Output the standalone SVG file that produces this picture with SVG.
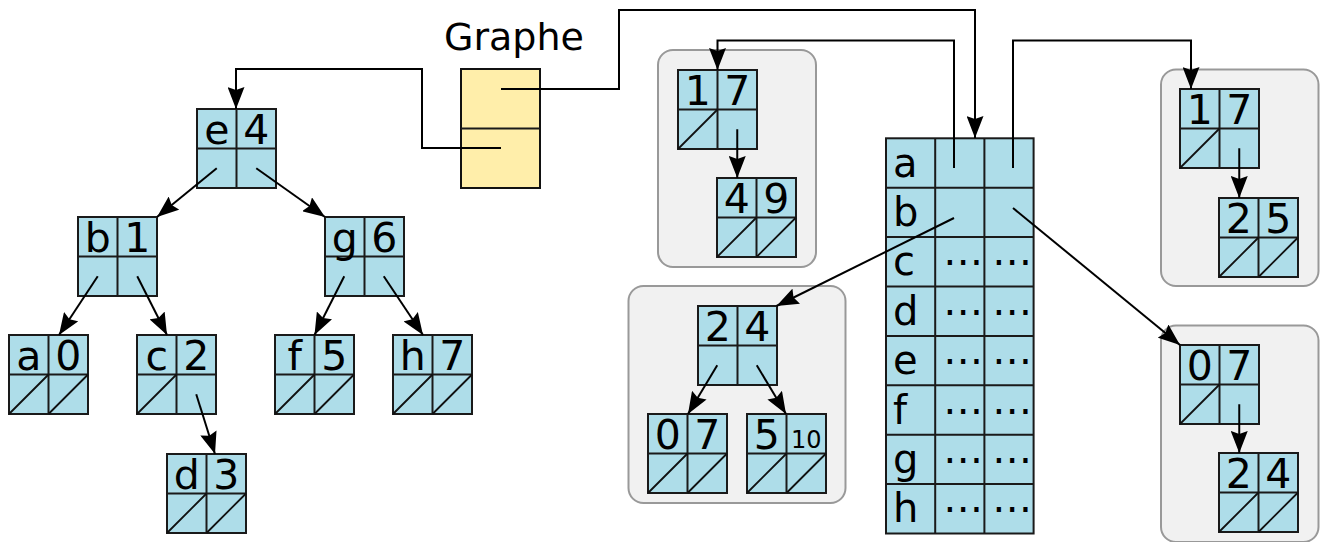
<svg xmlns="http://www.w3.org/2000/svg" width="1320" height="542" viewBox="0 0 1320 542">
<defs>
<style>
.cell{fill:#aedde9;stroke:#1a1a1a;stroke-width:2}
.grid{fill:none;stroke:#1a1a1a;stroke-width:2}
.sl{fill:none;stroke:#111;stroke-width:1.8}
.t{font-family:"DejaVu Sans",sans-serif;font-size:41px;fill:#000;text-anchor:middle}
.tl{font-family:"DejaVu Sans",sans-serif;font-size:40px;fill:#000}
.ln{fill:none;stroke:#000;stroke-width:2}
.arr{marker-end:url(#ah)}
.grp{fill:#f1f1f1;stroke:#999;stroke-width:2}
</style>
<marker id="ah" viewBox="0 0 22 17" refX="22" refY="8.5" markerWidth="22" markerHeight="17" markerUnits="userSpaceOnUse" orient="auto">
<path d="M0,0 L22,8.5 L0,17 L3,8.5 z" fill="#000"/>
</marker>
</defs>
<rect width="1320" height="542" fill="#fff"/>

<g id="groups">
<rect class="grp" x="658" y="50" width="158" height="217" rx="15"/>
<rect class="grp" x="628.5" y="286" width="217" height="217" rx="15"/>
<rect class="grp" x="1161" y="69.5" width="157.5" height="216.5" rx="15"/>
<rect class="grp" x="1161" y="325.5" width="157.5" height="216.5" rx="15"/>
</g>

<g id="graphe">
<text x="514" y="50" font-family="DejaVu Sans, sans-serif" font-size="38" text-anchor="middle" fill="#000">Graphe</text>
<rect x="461" y="69" width="79" height="119" fill="#ffeeaa" stroke="#111" stroke-width="2"/>
<path d="M461,128.5H540" class="grid"/>
</g>

<g id="n-e4" transform="translate(197,109)"><rect class="cell" width="79" height="79"/><path class="grid" d="M39.5,0V79M0,39.5H79"/><text class="t" x="19.75" y="34.5">e</text><text class="t" x="59.25" y="34.5">4</text></g>
<g id="n-b1" transform="translate(78,217)"><rect class="cell" width="79" height="79"/><path class="grid" d="M39.5,0V79M0,39.5H79"/><text class="t" x="19.75" y="34.5">b</text><text class="t" x="59.25" y="34.5">1</text></g>
<g id="n-g6" transform="translate(325,217)"><rect class="cell" width="79" height="79"/><path class="grid" d="M39.5,0V79M0,39.5H79"/><text class="t" x="19.75" y="34.5">g</text><text class="t" x="59.25" y="34.5">6</text></g>
<g id="n-a0" transform="translate(9,335)"><rect class="cell" width="79" height="79"/><path class="grid" d="M39.5,0V79M0,39.5H79"/><path class="sl" d="M0,79L39.5,39.5M39.5,79L79,39.5"/><text class="t" x="19.75" y="34.5">a</text><text class="t" x="59.25" y="34.5">0</text></g>
<g id="n-c2" transform="translate(137,335)"><rect class="cell" width="79" height="79"/><path class="grid" d="M39.5,0V79M0,39.5H79"/><path class="sl" d="M0,79L39.5,39.5"/><text class="t" x="19.75" y="34.5">c</text><text class="t" x="59.25" y="34.5">2</text></g>
<g id="n-f5" transform="translate(275,335)"><rect class="cell" width="79" height="79"/><path class="grid" d="M39.5,0V79M0,39.5H79"/><path class="sl" d="M0,79L39.5,39.5M39.5,79L79,39.5"/><text class="t" x="19.75" y="34.5">f</text><text class="t" x="59.25" y="34.5">5</text></g>
<g id="n-h7" transform="translate(393,335)"><rect class="cell" width="79" height="79"/><path class="grid" d="M39.5,0V79M0,39.5H79"/><path class="sl" d="M0,79L39.5,39.5M39.5,79L79,39.5"/><text class="t" x="19.75" y="34.5">h</text><text class="t" x="59.25" y="34.5">7</text></g>
<g id="n-d3" transform="translate(167,454)"><rect class="cell" width="79" height="79"/><path class="grid" d="M39.5,0V79M0,39.5H79"/><path class="sl" d="M0,79L39.5,39.5M39.5,79L79,39.5"/><text class="t" x="19.75" y="34.5">d</text><text class="t" x="59.25" y="34.5">3</text></g>

<g id="m-17" transform="translate(678,70)"><rect class="cell" width="79" height="79"/><path class="grid" d="M39.5,0V79M0,39.5H79"/><path class="sl" d="M0,79L39.5,39.5"/><text class="t" x="19.75" y="34.5">1</text><text class="t" x="59.25" y="34.5">7</text></g>
<g id="m-49" transform="translate(717,178)"><rect class="cell" width="79" height="79"/><path class="grid" d="M39.5,0V79M0,39.5H79"/><path class="sl" d="M0,79L39.5,39.5M39.5,79L79,39.5"/><text class="t" x="19.75" y="34.5">4</text><text class="t" x="59.25" y="34.5">9</text></g>
<g id="m-24" transform="translate(698,306)"><rect class="cell" width="79" height="79"/><path class="grid" d="M39.5,0V79M0,39.5H79"/><text class="t" x="19.75" y="34.5">2</text><text class="t" x="59.25" y="34.5">4</text></g>
<g id="m-07" transform="translate(648,414)"><rect class="cell" width="79" height="79"/><path class="grid" d="M39.5,0V79M0,39.5H79"/><path class="sl" d="M0,79L39.5,39.5M39.5,79L79,39.5"/><text class="t" x="19.75" y="34.5">0</text><text class="t" x="59.25" y="34.5">7</text></g>
<g id="m-510" transform="translate(747,414)"><rect class="cell" width="79" height="79"/><path class="grid" d="M39.5,0V79M0,39.5H79"/><path class="sl" d="M0,79L39.5,39.5M39.5,79L79,39.5"/><text class="t" x="19.75" y="34.5">5</text><text class="t" x="59.25" y="33.5" style="font-size:24px">10</text></g>

<g id="r-17" transform="translate(1180,89)"><rect class="cell" width="79" height="79"/><path class="grid" d="M39.5,0V79M0,39.5H79"/><path class="sl" d="M0,79L39.5,39.5"/><text class="t" x="19.75" y="34.5">1</text><text class="t" x="59.25" y="34.5">7</text></g>
<g id="r-25" transform="translate(1219,198)"><rect class="cell" width="79" height="79"/><path class="grid" d="M39.5,0V79M0,39.5H79"/><path class="sl" d="M0,79L39.5,39.5M39.5,79L79,39.5"/><text class="t" x="19.75" y="34.5">2</text><text class="t" x="59.25" y="34.5">5</text></g>
<g id="r-07" transform="translate(1180,345)"><rect class="cell" width="79" height="79"/><path class="grid" d="M39.5,0V79M0,39.5H79"/><path class="sl" d="M0,79L39.5,39.5"/><text class="t" x="19.75" y="34.5">0</text><text class="t" x="59.25" y="34.5">7</text></g>
<g id="r-24" transform="translate(1219,453)"><rect class="cell" width="79" height="79"/><path class="grid" d="M39.5,0V79M0,39.5H79"/><path class="sl" d="M0,79L39.5,39.5M39.5,79L79,39.5"/><text class="t" x="19.75" y="34.5">2</text><text class="t" x="59.25" y="34.5">4</text></g>

<g id="table">
<rect class="cell" x="886" y="138.3" width="147.6" height="395.2"/>
<path class="grid" d="M935.2,138.3V533.5M984.4,138.3V533.5M886,187.7H1033.6M886,237.1H1033.6M886,286.5H1033.6M886,335.9H1033.6M886,385.3H1033.6M886,434.7H1033.6M886,484.1H1033.6"/>
<text class="tl" x="893" y="176.5">a</text>
<text class="tl" x="893" y="225.9">b</text>
<text class="tl" x="893" y="275.3">c</text>
<text class="tl" x="893" y="324.7">d</text>
<text class="tl" x="893" y="374.1">e</text>
<text class="tl" x="893" y="423.5">f</text>
<text class="tl" x="893" y="472.9">g</text>
<text class="tl" x="893" y="522.3">h</text>
<g class="tl">
<text x="943" y="275.3">⋯</text><text x="992" y="275.3">⋯</text>
<text x="943" y="324.7">⋯</text><text x="992" y="324.7">⋯</text>
<text x="943" y="374.1">⋯</text><text x="992" y="374.1">⋯</text>
<text x="943" y="423.5">⋯</text><text x="992" y="423.5">⋯</text>
<text x="943" y="472.9">⋯</text><text x="992" y="472.9">⋯</text>
<text x="943" y="522.3">⋯</text><text x="992" y="522.3">⋯</text>
</g>
</g>

<g id="connectors">
<path class="ln arr" d="M501,89H619V10H975V138"/>
<path class="ln arr" d="M501,148H422V69H236V109"/>
<path class="ln arr" d="M954,168V40.5H717.5V70"/>
<path class="ln arr" d="M1013,168V40.5H1191V89"/>
<path class="ln arr" d="M954,218L776.5,306"/>
<path class="ln arr" d="M1013,208L1180,345"/>
<path class="ln arr" d="M216.75,168.25L157,217"/>
<path class="ln arr" d="M256.25,168.25L325,217"/>
<path class="ln arr" d="M97.75,276.25L59,335"/>
<path class="ln arr" d="M137.25,276.25L167,335"/>
<path class="ln arr" d="M196.25,394.25L215,454"/>
<path class="ln arr" d="M344.25,276.25L314.5,335"/>
<path class="ln arr" d="M383.75,276.25L423,335"/>
<path class="ln arr" d="M737.25,129.25V178"/>
<path class="ln arr" d="M717.25,365.25L688,414"/>
<path class="ln arr" d="M756.75,365.25L786,414"/>
<path class="ln arr" d="M1239.25,148.25V198"/>
<path class="ln arr" d="M1239.25,404.25V453"/>
</g>
</svg>
